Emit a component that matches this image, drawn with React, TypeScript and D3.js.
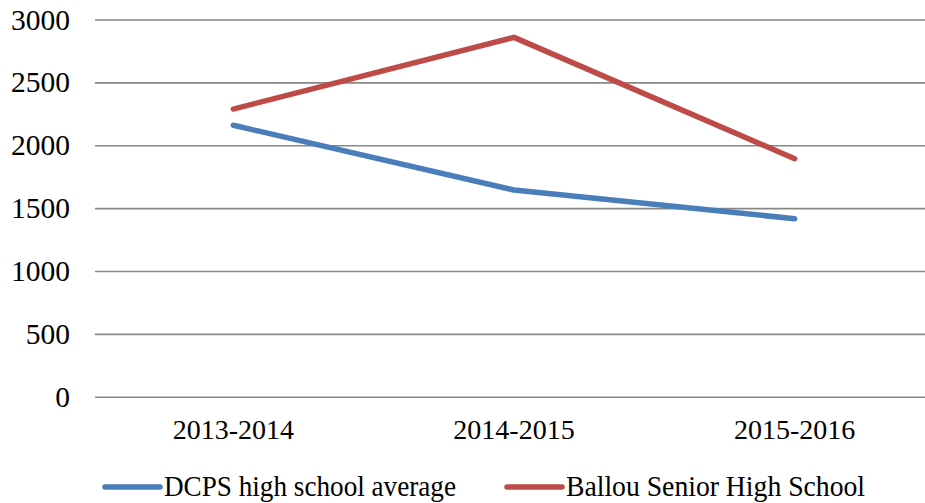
import React from "react";
import * as d3 from "d3";

const categories = ["2013-2014", "2014-2015", "2015-2016"];
const dcpsValues = [2163, 1648, 1420];
const ballouValues = [2292, 2862, 1897];
const yTicks = [0, 500, 1000, 1500, 2000, 2500, 3000];
const seriesNames = ["DCPS high school average", "Ballou Senior High School"];
const seriesColors = ["#4a7ebb", "#be4b48"];

export default function App() {
  const W = 925;
  const H = 503;
  const x = d3.scalePoint<string>().domain(categories).range([93, 935]).padding(0.5);
  const y = d3.scaleLinear().domain([0, 3000]).range([397.3, 20]);
  const line = d3
    .line<number>()
    .x((_, i) => x(categories[i]) as number)
    .y((d) => y(d));
  const series = [dcpsValues, ballouValues];
  const legendX = [105, 507];
  const legendTextW = [292, 299];
  return (
    <svg
      width={W}
      height={H}
      style={{ position: "absolute", left: 0, top: 0, background: "#fff" }}
    >
      {yTicks.map((t) => (
        <g key={t}>
          <line x1={95} x2={925} y1={y(t)} y2={y(t)} stroke="#878787" strokeWidth={1.6} />
          <text
            x={70}
            y={y(t) + 9.5}
            textAnchor="end"
            fontFamily="'Liberation Serif', 'DejaVu Serif', serif"
            fontSize={29.5}
            fill="#000"
          >
            {t}
          </text>
        </g>
      ))}
      {categories.map((c) => (
        <text
          key={c}
          x={x(c)}
          y={439}
          textAnchor="middle"
          fontFamily="'Liberation Serif', 'DejaVu Serif', serif"
          fontSize={28}
          fill="#000"
        >
          {c}
        </text>
      ))}
      {series.map((s, i) => (
        <path
          key={i}
          d={line(s) || ""}
          fill="none"
          stroke={seriesColors[i]}
          strokeWidth={5.5}
          strokeLinecap="round"
          strokeLinejoin="round"
        />
      ))}
      {seriesNames.map((n, i) => (
        <g key={n}>
          <line
            x1={legendX[i]}
            x2={legendX[i] + 55}
            y1={487}
            y2={487}
            stroke={seriesColors[i]}
            strokeWidth={5.5}
            strokeLinecap="round"
          />
          <text
            x={legendX[i] + 59}
            y={496}
            fontFamily="'Liberation Serif', 'DejaVu Serif', serif"
            fontSize={30}
            textLength={legendTextW[i]}
            lengthAdjust="spacingAndGlyphs"
            fill="#000"
          >
            {n}
          </text>
        </g>
      ))}
    </svg>
  );
}
